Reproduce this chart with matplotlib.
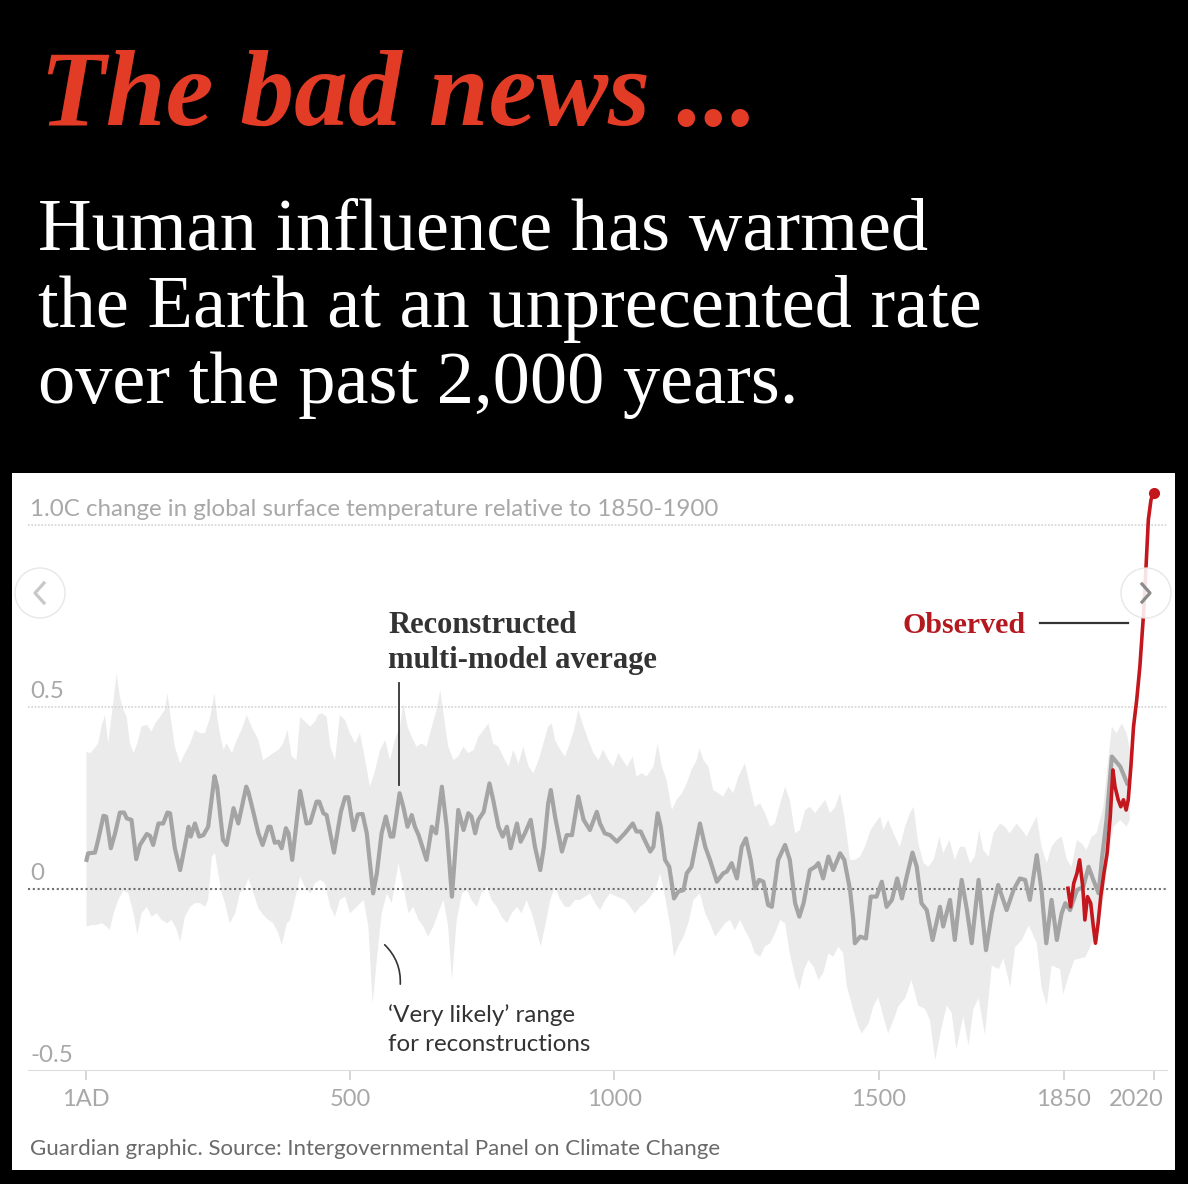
import matplotlib.pyplot as plt
import numpy as np
from matplotlib.patches import Rectangle, Ellipse
from matplotlib.lines import Line2D

# =============================================================================
# Data (years AD, deg C relative to 1850-1900)
# =============================================================================

# reconstructed multi-model average (grey line)
mean_years = [2, 5, 18, 24, 34, 39, 48, 56, 65, 73, 78, 87, 96, 103, 116, 122, 128, 138, 147, 155,
              160, 169, 179, 195, 199, 207, 215, 223, 232, 244, 249, 260, 267, 280, 289, 304, 308, 318, 327, 335,
              346, 350, 358, 365, 371, 379, 384, 391, 406, 418, 425, 437, 442, 450, 456, 470, 483, 491, 497, 507,
              515, 524, 532, 544, 551, 560, 568, 577, 582, 594, 601, 609, 617, 623, 630, 645, 655, 663, 674, 683,
              693, 705, 715, 724, 730, 737, 743, 753, 764, 771, 781, 789, 797, 804, 816, 823, 831, 842, 850, 860,
              867, 875, 880, 888, 901, 910, 920, 932, 942, 954, 967, 973, 982, 992, 1005,
              1020, 1035, 1042, 1050, 1056, 1068, 1074, 1082, 1088, 1096, 1104, 1113, 1121, 1131, 1137, 1146, 1162, 1172, 1181, 1194,
              1206, 1213, 1222, 1232, 1241, 1249, 1258, 1266, 1274, 1282, 1291, 1298, 1310, 1323, 1332, 1342, 1350, 1358, 1370, 1380,
              1386, 1395, 1405, 1414, 1427, 1435, 1446, 1452, 1455, 1465, 1476, 1485, 1496, 1506, 1515, 1525,
              1535, 1544, 1553, 1564, 1572, 1581, 1591, 1602, 1616, 1622, 1635, 1644, 1657, 1667, 1676, 1689, 1703, 1714, 1726, 1742,
              1755, 1767, 1777, 1786, 1799, 1808, 1817, 1827, 1837, 1846, 1853, 1862, 1875, 1887, 1897, 1906, 1916, 1922, 1931, 1941,
              1957, 1970]
mean_vals = [0.080, 0.098, 0.100, 0.135, 0.201, 0.199, 0.112, 0.153, 0.210, 0.210, 0.194, 0.190, 0.082, 0.121, 0.151, 0.146, 0.121, 0.180, 0.180, 0.210,
             0.208, 0.112, 0.052, 0.171, 0.144, 0.180, 0.144, 0.148, 0.171, 0.310, 0.281, 0.135, 0.121, 0.222, 0.180, 0.281, 0.267, 0.208, 0.153, 0.121,
             0.171, 0.171, 0.127, 0.130, 0.112, 0.167, 0.153, 0.080, 0.269, 0.180, 0.182, 0.240, 0.240, 0.208, 0.203, 0.100, 0.212, 0.252, 0.252, 0.162,
             0.205, 0.206, 0.153, -0.012, 0.043, 0.153, 0.199, 0.144, 0.144, 0.263, 0.226, 0.171, 0.203, 0.171, 0.148, 0.080, 0.171, 0.153, 0.281, 0.171,
             -0.021, 0.217, 0.162, 0.208, 0.199, 0.153, 0.190, 0.212, 0.290, 0.245, 0.171, 0.144, 0.171, 0.112, 0.180, 0.130, 0.153, 0.190, 0.116, 0.052,
             0.116, 0.235, 0.272, 0.199, 0.103, 0.148, 0.148, 0.254, 0.190, 0.162, 0.212, 0.180, 0.153, 0.148, 0.130,
             0.153, 0.180, 0.158, 0.158, 0.139, 0.103, 0.116, 0.208, 0.171, 0.080, 0.061, -0.026, -0.007, -0.003, 0.043, 0.061, 0.180, 0.116, 0.080, 0.020,
             0.043, 0.048, 0.071, 0.029, 0.116, 0.139, 0.080, 0.002, 0.025, 0.020, -0.044, -0.049, 0.080, 0.121, 0.080, -0.039, -0.076, -0.039, 0.052, 0.061,
             0.071, 0.029, 0.089, 0.052, 0.098, 0.080, -0.003, -0.085, -0.149, -0.131, -0.136, -0.021, -0.021, 0.020, -0.049, -0.030,
             0.029, -0.026, 0.034, 0.100, 0.061, -0.039, -0.058, -0.140, -0.049, -0.103, -0.030, -0.140, 0.025, -0.058, -0.149, 0.025, -0.168, -0.067, 0.011, -0.058,
             -0.003, 0.029, 0.025, -0.030, 0.093, -0.003, -0.149, -0.030, -0.140, -0.067, -0.039, -0.058, -0.003, 0.006, 0.061, 0.025, -0.012, 0.080, 0.190, 0.364,
             0.336, 0.290]

# 'very likely' range, upper edge
band_up_years = [2, 9, 15, 24, 31, 37, 43, 53, 59, 65, 72, 78, 84, 91, 98, 106, 116, 125, 132, 141,
                 150, 155, 160, 169, 179, 188, 198, 207, 217, 226, 236, 244, 249, 254, 261, 267, 277, 286, 295, 305,
                 314, 327, 336, 346, 355, 365, 374, 382, 390, 399, 406, 412, 425, 434, 440, 447, 456, 463, 472, 481,
                 491, 500, 510,
                 519, 529, 538, 548, 557, 567, 576, 585, 595, 601, 609, 617, 626, 636, 645, 655, 664, 671, 677, 686,
                 696, 705, 715, 724, 734, 743, 753, 762, 771, 781, 790, 800, 809, 819, 828, 838, 847, 857, 866, 875,
                 882, 888, 898, 907, 916, 924, 932, 942, 951, 961, 970, 979, 989, 998, 1008,
                 1024, 1035, 1042, 1052, 1061, 1074, 1082, 1090, 1099, 1109, 1118, 1128, 1137, 1146, 1156, 1161, 1169, 1178, 1187, 1197,
                 1206, 1216, 1225, 1235, 1247, 1257, 1266, 1276, 1285, 1295, 1304, 1314, 1323, 1332, 1342, 1351, 1361, 1370, 1380, 1389,
                 1399, 1408, 1418, 1427, 1435, 1446, 1455, 1465, 1474, 1485, 1493, 1503, 1509, 1518, 1528,
                 1540, 1550, 1559, 1566, 1575, 1585, 1594, 1604, 1615, 1622, 1634, 1644, 1654, 1663, 1673, 1682, 1690, 1698, 1708, 1717,
                 1730, 1739, 1748, 1761, 1771, 1780, 1789, 1799, 1808, 1818, 1827, 1837, 1846, 1856, 1865, 1875, 1884, 1893, 1903, 1912,
                 1925, 1934, 1941, 1950, 1960, 1969, 1975]
band_up = [0.377, 0.373, 0.382, 0.400, 0.451, 0.478, 0.400, 0.519, 0.592, 0.528, 0.492, 0.473, 0.400, 0.373, 0.400, 0.446, 0.451, 0.432, 0.455, 0.473,
           0.492, 0.538, 0.483, 0.391, 0.345, 0.373, 0.400, 0.437, 0.428, 0.428, 0.473, 0.538, 0.473, 0.428, 0.382, 0.400, 0.373, 0.409, 0.437, 0.478,
           0.446, 0.409, 0.354, 0.364, 0.373, 0.382, 0.400, 0.437, 0.364, 0.354, 0.473, 0.464, 0.446, 0.460, 0.478, 0.483, 0.473, 0.391, 0.354, 0.478,
           0.464, 0.428, 0.400,
           0.428, 0.354, 0.281, 0.327, 0.382, 0.409, 0.354, 0.409, 0.446, 0.510, 0.446, 0.418, 0.391, 0.400, 0.391, 0.446, 0.492, 0.547, 0.483, 0.391,
           0.354, 0.364, 0.391, 0.373, 0.382, 0.418, 0.437, 0.455, 0.400, 0.391, 0.364, 0.336, 0.382, 0.345, 0.391, 0.336, 0.318, 0.354, 0.400, 0.446,
           0.455, 0.409, 0.382, 0.364, 0.400, 0.437, 0.492, 0.446, 0.409, 0.373, 0.354, 0.382, 0.354, 0.336, 0.373,
           0.336, 0.364, 0.309, 0.318, 0.309, 0.336, 0.400, 0.336, 0.299, 0.217, 0.245, 0.263, 0.290, 0.327, 0.354, 0.386, 0.354, 0.336, 0.272, 0.263,
           0.254, 0.281, 0.263, 0.309, 0.345, 0.281, 0.226, 0.235, 0.208, 0.171, 0.180, 0.235, 0.281, 0.245, 0.153, 0.162, 0.217, 0.226, 0.208, 0.226,
           0.245, 0.208, 0.226, 0.263, 0.199, 0.080, 0.080, 0.089, 0.116, 0.162, 0.180, 0.199, 0.162, 0.190, 0.153,
           0.116, 0.171, 0.208, 0.226, 0.125, 0.071, 0.061, 0.080, 0.144, 0.098, 0.135, 0.080, 0.116, 0.116, 0.070, 0.090, 0.162, 0.107, 0.089, 0.153,
           0.180, 0.171, 0.153, 0.180, 0.162, 0.144, 0.171, 0.199, 0.116, 0.071, 0.116, 0.135, 0.144, 0.080, 0.061, 0.135, 0.125, 0.107, 0.144, 0.153,
           0.226, 0.354, 0.446, 0.428, 0.455, 0.428, 0.382]

# 'very likely' range, lower edge
band_low_years = [2, 12, 21, 31, 40, 46, 53, 62, 72, 81, 91, 98, 106, 116, 125, 135, 144, 154, 163, 173,
                  179, 188, 198, 207, 217, 226, 232, 239, 245, 251, 258, 264, 273, 283, 292, 302, 308, 318, 327, 336,
                  346, 355, 365, 371, 381, 387, 396, 406, 415, 425, 434, 444, 453, 463, 472, 481, 491,
                  500, 513, 526, 535, 543, 551, 560, 570, 579, 592, 601, 611, 620, 630, 639, 648, 658, 667, 677, 686,
                  693, 702, 712, 721, 730, 740, 749, 759, 768, 778, 787, 797, 806, 816, 825, 834, 844, 853, 861, 869,
                  879, 888, 898, 907, 916, 926, 935, 945, 954, 964, 973, 983, 992, 1005,
                  1020, 1030, 1039, 1049, 1058, 1068, 1077, 1087, 1096, 1106, 1113, 1121, 1131, 1140, 1150, 1162, 1172, 1181, 1191, 1200,
                  1210, 1219, 1228, 1238, 1247, 1257, 1266, 1276, 1285, 1295, 1304, 1314, 1323, 1332, 1342, 1350, 1359, 1367, 1377, 1386,
                  1395, 1405, 1414, 1424, 1433, 1440, 1452, 1462, 1468, 1481, 1490, 1499, 1509, 1518, 1528,
                  1537, 1550, 1562, 1575, 1588, 1597, 1607, 1619, 1629, 1638, 1647, 1660, 1670, 1679, 1689, 1701, 1714, 1727, 1736, 1749,
                  1758, 1771, 1784, 1799, 1808, 1818, 1827, 1843, 1849, 1859, 1870, 1891, 1913, 1925, 1934, 1944, 1957, 1969, 1975]
band_low = [-0.103, -0.099, -0.099, -0.094, -0.103, -0.113, -0.067, -0.030, -0.003, -0.012, -0.067, -0.126, -0.067, -0.049, -0.076, -0.067, -0.085, -0.094, -0.085, -0.113,
            -0.145, -0.076, -0.049, -0.039, -0.039, -0.049, -0.030, 0.089, 0.098, 0.043, -0.012, -0.039, -0.094, -0.067, -0.012, 0.006, 0.029, -0.012, -0.053, -0.071,
            -0.085, -0.094, -0.122, -0.154, -0.094, -0.085, -0.030, 0.034, 0.006, -0.012, 0.016, 0.025, 0.016, -0.049, -0.076, -0.030, -0.021,
            -0.067, -0.049, -0.030, -0.103, -0.314, -0.195, -0.067, -0.012, -0.039, 0.071, 0.006, -0.067, -0.049, -0.085, -0.103, -0.131, -0.103, -0.067, -0.030, -0.103,
            -0.250, -0.085, -0.012, -0.003, -0.030, -0.049, -0.012, 0.006, -0.030, -0.049, -0.076, -0.094, -0.067, -0.049, -0.067, -0.030, -0.067, -0.113, -0.158, -0.103,
            -0.030, 0.006, -0.030, -0.049, -0.049, -0.030, -0.030, -0.021, -0.012, -0.039, -0.058, -0.030, -0.012, -0.021,
            -0.030, -0.049, -0.067, -0.049, -0.039, -0.021, -0.003, 0.043, -0.021, -0.103, -0.186, -0.158, -0.131, -0.094, -0.030, -0.012, -0.067, -0.094, -0.131, -0.113,
            -0.094, -0.085, -0.113, -0.085, -0.113, -0.140, -0.177, -0.186, -0.158, -0.149, -0.122, -0.085, -0.094, -0.177, -0.241, -0.277, -0.223, -0.195, -0.213, -0.250,
            -0.232, -0.177, -0.186, -0.158, -0.177, -0.268, -0.332, -0.378, -0.397, -0.369, -0.323, -0.296, -0.351, -0.397, -0.360,
            -0.323, -0.300, -0.250, -0.320, -0.330, -0.360, -0.470, -0.380, -0.320, -0.340, -0.440, -0.350, -0.430, -0.330, -0.300, -0.400, -0.210, -0.220, -0.190, -0.270,
            -0.160, -0.140, -0.100, -0.149, -0.270, -0.320, -0.210, -0.220, -0.290, -0.240, -0.195, -0.187, -0.120, -0.030, 0.080, 0.171, 0.190, 0.171, 0.190]

# observed (red line)
obs_years = [1858, 1863, 1869, 1875, 1880, 1886, 1890, 1895, 1901, 1906, 1910, 1915, 1920, 1926, 1932, 1938,
             1943, 1947, 1953, 1958, 1963, 1968, 1972, 1977, 1982, 1988, 1994, 2001, 2006, 2010, 2015, 2020]
obs_vals = [0.002, -0.049, 0.016, 0.043, 0.080, 0.006, -0.085, -0.021, -0.039, -0.103, -0.149, -0.094, -0.021, 0.043, 0.098, 0.199,
            0.327, 0.281, 0.245, 0.226, 0.245, 0.217, 0.245, 0.336, 0.446, 0.519, 0.611, 0.757, 0.895, 1.014, 1.069, 1.089]

xtick_years = [1, 500, 1000, 1500, 1850, 2020]
xtick_labels = ['1AD', '500', '1000', '1500', '1850', '2020']
ytick_vals = [-0.5, 0, 0.5, 1.0]
ytick_labels = ['-0.5', '0', '0.5', '1.0C change in global surface temperature relative to 1850-1900']

title = 'The bad news ...'
subtitle = ['Human influence has warmed', 'the Earth at an unprecented rate', 'over the past 2,000 years.']
source = 'Guardian graphic. Source: Intergovernmental Panel on Climate Change'

# =============================================================================
# Layout helpers (pixel positions on a 1188 x 1184 canvas)
# =============================================================================

W, H = 1188, 1184

def fx(x):
    return x / W

def fy(y):
    return 1 - y / H

SERIF = 'Liberation Serif'
SANS = 'Lato'
red = '#c3161d'

fig = plt.figure(figsize=(W / 100, H / 100), dpi=100, facecolor='black')

# white chart card
fig.add_artist(Rectangle((fx(12), fy(1170)), fx(1175) - fx(12), fy(473) - fy(1170),
                         transform=fig.transFigure, facecolor='white', edgecolor='none', zorder=0))

# headline
fig.text(fx(40), fy(125), title, color='#e23b26', fontsize=77.5, fontweight='bold',
         fontstyle='italic', family=SERIF, va='baseline')
for line, base in zip(subtitle, [250, 327, 403]):
    fig.text(fx(38), fy(base), line, color='white', fontsize=53.6, family=SERIF, va='baseline')

# =============================================================================
# Chart
# =============================================================================

ax = fig.add_axes([fx(28), fy(1071), fx(1168) - fx(28), fy(481.3) - fy(1071)])
ax.set_facecolor('none')
ax.set_xlim(-108.7, 2047.2)
ax.set_ylim(-0.5, 1.12)
for s in ax.spines.values():
    s.set_visible(False)

band_x = np.concatenate([band_up_years, band_low_years[::-1]])
band_y = np.concatenate([band_up, band_low[::-1]])
ax.fill(band_x, band_y, color='#ebebeb', lw=0, zorder=1)

ax.axhline(1.0, color='#d4d4d4', lw=1.2, ls=(0, (1, 1)), zorder=2)
ax.axhline(0.5, color='#d4d4d4', lw=1.2, ls=(0, (1, 1)), zorder=2)
ax.axhline(0, color='#707070', lw=1.5, ls=(0, (1, 1.3)), zorder=2)
ax.axhline(-0.5, color='#dcdcdc', lw=1.5, zorder=2)

ax.plot(mean_years, mean_vals, color='#a4a4a4', lw=3, solid_joinstyle='round', zorder=3)
ax.plot(obs_years, obs_vals, color=red, lw=2.6, solid_joinstyle='round', zorder=4)
ax.plot(obs_years[-1], obs_vals[-1], 'o', ms=7, color=red, zorder=5)

ax.set_yticks([])
ax.set_xticks(xtick_years)
ax.tick_params(axis='x', length=6.5, width=1.2, color='#d0d0d0', labelbottom=False)

for yr, lab in zip(xtick_years, xtick_labels):
    dx = -17 if lab == '2020' else 0
    ax.annotate(lab, xy=(yr, 0), xycoords=('data', 'axes fraction'), xytext=(dx, -35),
                textcoords='offset pixels', ha='center', va='baseline',
                color='#a8a8a8', fontsize=17, family=SANS)

for v, lab in zip(ytick_vals, ytick_labels):
    ax.annotate(lab, xy=(0, v), xycoords=('axes fraction', 'data'), xytext=(2, 9),
                textcoords='offset pixels', ha='left', va='baseline',
                color='#a8a8a8', fontsize=17.4, family=SANS)

# annotations
fig.text(fx(388), fy(633), 'Reconstructed', color='#333333', fontsize=22, fontweight='bold',
         family=SERIF, va='baseline')
fig.text(fx(388), fy(668), 'multi-model average', color='#333333', fontsize=22, fontweight='bold',
         family=SERIF, va='baseline')
ax.plot([593, 593], [0.286, 0.566], color='#333333', lw=1.3, zorder=3)

fig.text(fx(903), fy(633), 'Observed', color='#b3191f', fontsize=21.5, fontweight='bold',
         family=SERIF, va='baseline')
ax.plot([1805, 1972], [0.731, 0.731], color='#333333', lw=1.6, zorder=3)

fig.text(fx(388), fy(1022), '\u2018Very likely\u2019 range', color='#333333', fontsize=17.4, family=SANS, va='baseline')
fig.text(fx(388), fy(1051), 'for reconstructions', color='#333333', fontsize=17.4, family=SANS, va='baseline')
ax.annotate('', xy=(595, -0.269), xytext=(562, -0.148),
            arrowprops=dict(arrowstyle='-', connectionstyle='arc3,rad=-0.25', color='#333333', lw=1.2))

fig.text(fx(30), fy(1155), source, color='#6a6a6a', fontsize=16, family=SANS, va='baseline')

# carousel buttons
for cx, chev, col in [(40, [(44, 583), (35, 593), (44, 603)], '#c8c8c8'),
                      (1146, [(1142, 584), (1150, 593), (1142, 602)], '#8a8a8a')]:
    fig.add_artist(Ellipse((fx(cx), fy(593)), 50 / W, 50 / H, transform=fig.transFigure,
                           facecolor='white', alpha=0.88, edgecolor='#e4e4e4', lw=1, zorder=10))
    fig.add_artist(Line2D([fx(p[0]) for p in chev], [fy(p[1]) for p in chev],
                          transform=fig.transFigure, color=col, lw=2.3, zorder=11))

fig.savefig('out.png', dpi=100, facecolor='black')
